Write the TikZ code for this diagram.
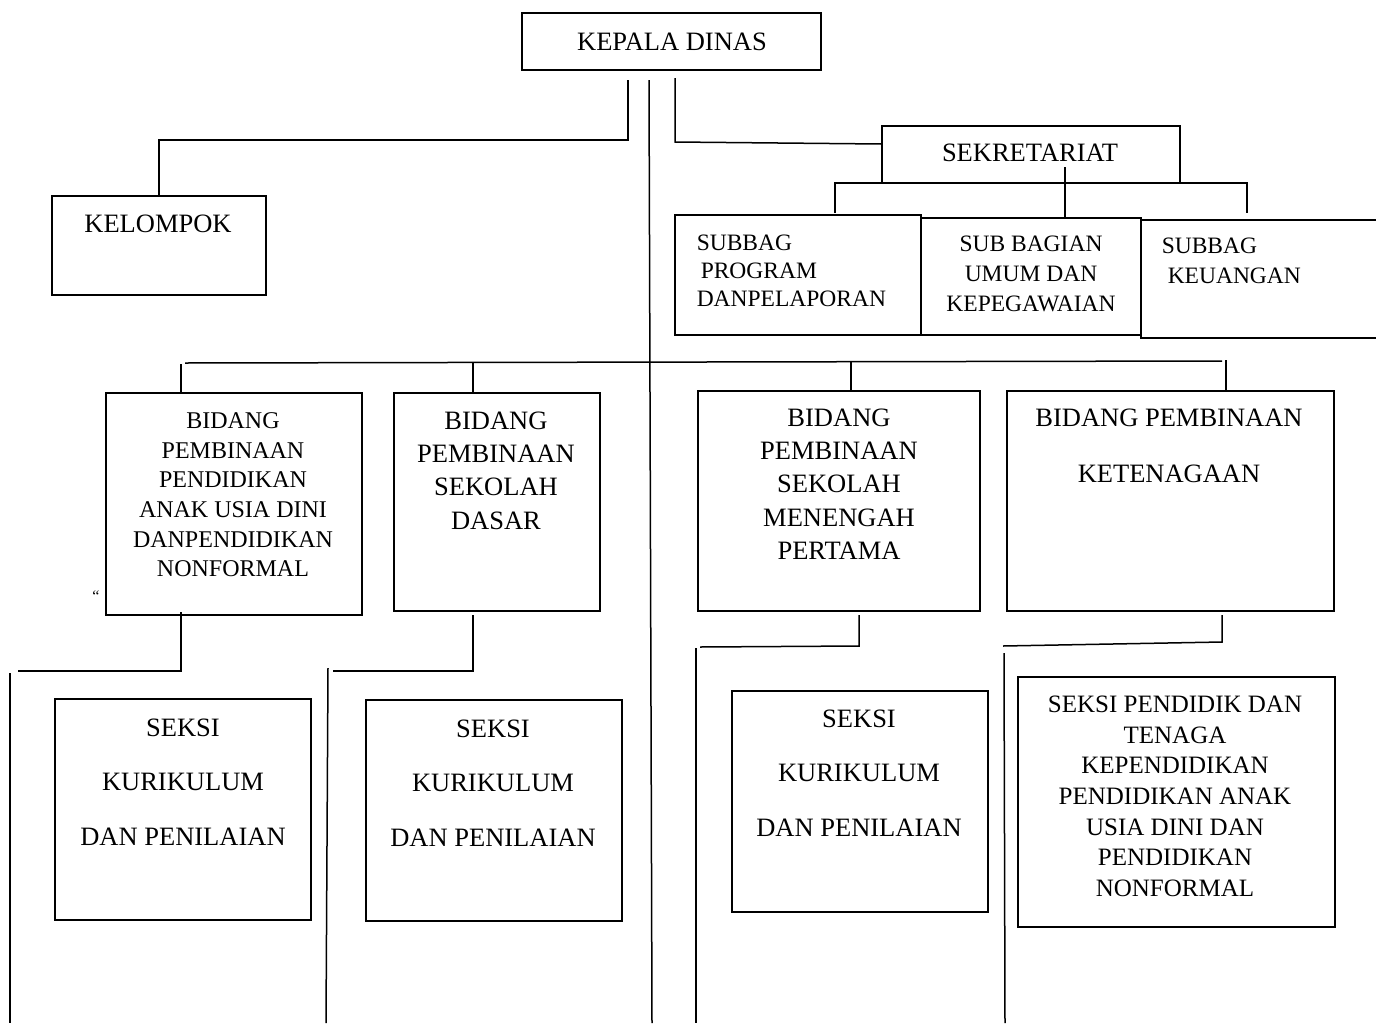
\documentclass[tikz,border=0pt]{standalone}
\usepackage{fontspec}
\setmainfont{Liberation Serif}
\begin{document}
\begin{tikzpicture}[x=1pt,y=-1pt,line width=1.5pt,
  box/.style={draw,rectangle,inner sep=0pt},
  txt/.style={inner sep=0pt,anchor=north,align=center},
  ltxt/.style={inner sep=0pt,anchor=north west,align=left},
  fA/.style={font=\fontsize{26.5}{33.3}\selectfont},
  fB/.style={font=\fontsize{26.5}{54.5}\selectfont}]
\useasboundingbox (0,0) rectangle (1376,1023);
% top level
\node[box,minimum width=299pt,minimum height=57pt] (kepala) at (671.5,41.5) {};
\node[inner sep=0pt,fA] (tkepala) at (672,42) {KEPALA DINAS};
\node[box,minimum width=214pt,minimum height=99pt] (kelompok) at (159,245.5) {};
\node[inner sep=0pt,fA] (tkelompok) at (158,224) {KELOMPOK};
\node[box,minimum width=298pt,minimum height=57pt] (sekre) at (1031,154.5) {};
\node[inner sep=0pt,fA] (tsekre) at (1030,153) {SEKRETARIAT};
% subbag
\node[box,minimum width=246pt,minimum height=120pt] (subprog) at (798,275) {};
\node[ltxt,font=\fontsize{23.5}{28}\selectfont] (tsubprog) at (696,234) {SUBBAG\\\hspace*{4pt}PROGRAM\\DANPELAPORAN};
\node[box,minimum width=220pt,minimum height=117pt] (subumum) at (1031,276.5) {};
\node[txt,font=\fontsize{23.5}{30}\selectfont] (tsubumum) at (1031,235) {SUB BAGIAN\\UMUM DAN\\KEPEGAWAIAN};
\node[box,minimum width=245pt,minimum height=118pt] (subkeu) at (1263.5,279) {};
\node[ltxt,font=\fontsize{23.5}{30}\selectfont] (tsubkeu) at (1161,237) {SUBBAG\\\hspace*{6pt}KEUANGAN};
% bidang
\node[box,minimum width=256pt,minimum height=222pt] (bpaud) at (234,504) {};
\node[txt,font=\fontsize{24}{29.6}\selectfont] (tbpaud) at (233,412) {BIDANG\\PEMBINAAN\\PENDIDIKAN\\ANAK USIA DINI\\DANPENDIDIKAN\\NONFORMAL};
\node[box,minimum width=206pt,minimum height=218pt] (bsd) at (497,502) {};
\node[txt,fA] (tbsd) at (496,411) {BIDANG\\PEMBINAAN\\SEKOLAH\\DASAR};
\node[box,minimum width=282pt,minimum height=220pt] (bsmp) at (839,501) {};
\node[txt,fA] (tbsmp) at (839,408) {BIDANG\\PEMBINAAN\\SEKOLAH\\MENENGAH\\PERTAMA};
\node[box,minimum width=327pt,minimum height=220pt] (bket) at (1170.5,501) {};
\node[txt,font=\fontsize{26.5}{56}\selectfont] (tbket) at (1169,408) {BIDANG PEMBINAAN\\KETENAGAAN};
% seksi
\node[box,minimum width=256pt,minimum height=221pt] (s1) at (183,809.5) {};
\node[txt,fB] (ts1) at (183,718) {SEKSI\\KURIKULUM\\DAN PENILAIAN};
\node[box,minimum width=256pt,minimum height=221pt] (s2) at (494,810.5) {};
\node[txt,fB] (ts2) at (493,719) {SEKSI\\KURIKULUM\\DAN PENILAIAN};
\node[box,minimum width=256pt,minimum height=221pt] (s3) at (860,801.5) {};
\node[txt,fB] (ts3) at (859,709) {SEKSI\\KURIKULUM\\DAN PENILAIAN};
\node[box,minimum width=317pt,minimum height=250pt] (s4) at (1176.5,802) {};
\node[txt,font=\fontsize{25}{30.7}\selectfont] (ts4) at (1175,695) {SEKSI PENDIDIK DAN\\TENAGA\\KEPENDIDIKAN\\PENDIDIKAN ANAK\\USIA DINI DAN\\PENDIDIKAN\\NONFORMAL};
\node[inner sep=0pt,font=\fontsize{16}{16}\selectfont] (stray) at (96,596) {\char96\char96};
% connectors from kepala
\coordinate (k1) at (628,80);
\draw (k1) -- (628,140) -| (kelompok.north);
\coordinate (m1) at (649,80);
\coordinate (m2) at (652,1023);
\draw (m1) -- (m2);
\coordinate (r1) at (675,78);
\draw (r1) -- (675,142) -- ([yshift=10.5pt]sekre.west);
% sekretariat
\coordinate (sa) at (835,213);
\coordinate (sb) at (1247,213);
\draw (sa) -- (835,183) -- (1247,183) -- (sb);
\coordinate (sc) at (1065,167);
\draw (sc) -- (1065,218);
% bidang bus
\coordinate (bl) at (181,393);
\coordinate (br) at (1226,391);
\draw (185,363) -- (1222,361);
\draw (bl) -- (181,364);
\draw (473,363) -- (473,393);
\draw (851,361) -- (851,391);
\draw (1226,360) -- (br);
% lower connectors
\coordinate (p1) at (181,612);
\draw (p1) -- (181,671) -- (18,671);
\draw (10,673) -- (10,1023);
\coordinate (d1) at (473,615);
\draw (d1) -- (473,671) -- (333,671);
\draw (328,668) -- (326,1023);
\coordinate (e1) at (859,615);
\draw (e1) -- (859,646) -- (700,647);
\draw (696,648) -- (696,1023);
\coordinate (f1) at (1222,615);
\draw (f1) -- (1222,642) -- (1003,646);
\draw (1004,653) -- (1005,1023);
\end{tikzpicture}
\end{document}
